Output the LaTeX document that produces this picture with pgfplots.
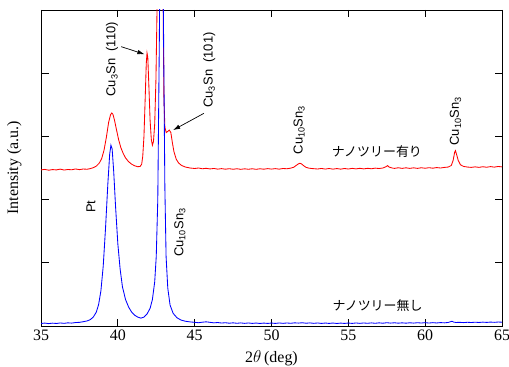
\documentclass[border=0pt]{standalone}
\usepackage{pgfplots}
\pgfplotsset{compat=1.18}
\usepackage{fontspec}
\setmainfont{Liberation Serif}
\newfontfamily\arial{Liberation Sans}
\newfontfamily\cjk{Noto Sans CJK JP}
\usetikzlibrary{arrows.meta}
\begin{document}
\begin{tikzpicture}
\useasboundingbox (-41bp,-41bp) rectangle (468bp,326bp);
\begin{axis}[
  at={(0,0)}, anchor=south west,
  scale only axis, width=461bp, height=316bp,
  xmin=35, xmax=65, ymin=0, ymax=5,
  xtick={35,40,...,65}, ytick={1,2,3,4}, yticklabels={},
  tick align=inside, major tick length=7.5bp,
  tick style={black, line width=0.8bp},
  axis line style={line width=0.9bp},
  /pgf/number format/assume math mode=true,
  ticklabel style={font=\fontsize{16}{16}\selectfont},
  xticklabel style={yshift=-0.5bp},
  xlabel={2$\theta$\,(deg)},
  ylabel={Intensity (a.u.)},
  label style={font=\fontsize{16}{16}\selectfont},
  xlabel style={at={(axis description cs:0.5,-0.101)}, anchor=center},
  ylabel style={at={(axis description cs:-0.058,0.5)}, anchor=center},
  every axis plot/.append style={line width=0.85bp},
]
% with nanotree (red)
\addplot[red, no marks] coordinates {
(35.00,2.470)(35.25,2.478)(35.50,2.465)(35.75,2.475)(36.00,2.470)(36.25,2.482)
(36.50,2.468)(36.75,2.476)(37.00,2.472)(37.25,2.485)(37.50,2.474)(37.75,2.484)
(38.00,2.480)(38.20,2.490)(38.40,2.505)(38.60,2.530)(38.80,2.580)(38.95,2.650)
(39.10,2.780)(39.25,2.980)(39.40,3.220)(39.52,3.340)(39.60,3.370)(39.68,3.350)
(39.78,3.260)(39.90,3.120)(40.05,2.950)(40.20,2.820)(40.35,2.730)(40.50,2.660)
(40.70,2.600)(40.90,2.560)(41.10,2.535)(41.30,2.520)(41.45,2.525)(41.55,2.560)
(41.62,2.680)(41.70,3.000)(41.78,3.600)(41.85,4.150)(41.90,4.320)(41.95,4.250)
(42.02,3.800)(42.10,3.250)(42.18,2.950)(42.25,2.860)(42.32,2.920)(42.40,3.200)
(42.48,3.900)(42.55,5.000)(42.65,7.000)(42.80,9.000)(42.90,7.000)(42.95,5.000)
(43.00,3.600)(43.06,3.150)(43.15,3.060)(43.25,3.080)(43.35,3.100)(43.45,3.060)
(43.55,2.900)(43.65,2.760)(43.80,2.640)(43.95,2.580)(44.15,2.540)(44.40,2.515)
(44.70,2.500)(45.00,2.492)(45.25,2.500)(45.50,2.488)(45.75,2.495)(46.00,2.485)
(46.25,2.493)(46.50,2.482)(46.75,2.490)(47.00,2.481)(47.25,2.489)(47.50,2.480)
(47.75,2.488)(48.00,2.479)(48.25,2.487)(48.50,2.480)(48.75,2.488)(49.00,2.479)
(49.25,2.488)(49.50,2.481)(49.75,2.490)(50.00,2.483)(50.25,2.490)(50.50,2.482)
(50.75,2.492)(51.00,2.488)(51.25,2.498)(51.45,2.512)(51.60,2.540)(51.75,2.565)
(51.85,2.575)(51.95,2.565)(52.10,2.535)(52.25,2.510)(52.45,2.497)(52.70,2.490)
(53.00,2.484)(53.25,2.493)(53.50,2.483)(53.75,2.492)(54.00,2.482)(54.25,2.491)
(54.50,2.482)(54.75,2.492)(55.00,2.484)(55.25,2.494)(55.50,2.486)(55.75,2.495)
(56.00,2.486)(56.25,2.495)(56.50,2.488)(56.75,2.498)(57.00,2.492)(57.25,2.500)
(57.45,2.520)(57.55,2.538)(57.65,2.515)(57.85,2.500)(58.00,2.494)(58.25,2.504)
(58.50,2.494)(58.75,2.503)(59.00,2.494)(59.25,2.503)(59.50,2.494)(59.75,2.504)
(60.00,2.496)(60.25,2.505)(60.50,2.497)(60.75,2.507)(61.00,2.500)(61.25,2.509)
(61.50,2.515)(61.70,2.540)(61.82,2.620)(61.92,2.750)(61.97,2.775)(62.05,2.710)
(62.15,2.620)(62.30,2.550)(62.50,2.525)(62.75,2.515)(63.00,2.510)(63.25,2.518)
(63.50,2.510)(63.75,2.520)(64.00,2.512)(64.25,2.522)(64.50,2.514)(64.75,2.524)
(65.00,2.518)
};
% without nanotree (blue)
\addplot[blue, no marks] coordinates {
(35.00,0.040)(35.25,0.046)(35.50,0.038)(35.75,0.045)(36.00,0.040)(36.25,0.048)
(36.50,0.042)(36.75,0.050)(37.00,0.046)(37.25,0.055)(37.50,0.058)(37.75,0.068)
(38.00,0.080)(38.20,0.100)(38.40,0.140)(38.60,0.220)(38.75,0.340)(38.90,0.560)
(39.05,0.950)(39.20,1.550)(39.35,2.250)(39.47,2.720)(39.55,2.860)(39.63,2.800)
(39.73,2.450)(39.85,1.900)(40.00,1.300)(40.15,0.900)(40.30,0.620)(40.50,0.420)
(40.70,0.300)(40.90,0.220)(41.10,0.170)(41.30,0.140)(41.50,0.125)(41.70,0.140)
(41.90,0.190)(42.10,0.280)(42.25,0.420)(42.40,0.700)(42.50,1.100)(42.60,2.000)
(42.70,4.500)(42.85,9.000)(42.98,4.500)(43.06,2.200)(43.14,1.100)(43.25,0.600)
(43.40,0.330)(43.60,0.200)(43.85,0.130)(44.10,0.095)(44.40,0.075)(44.70,0.065)
(45.00,0.058)(45.25,0.052)(45.50,0.060)(45.75,0.066)(46.00,0.058)(46.25,0.050)
(46.50,0.055)(46.75,0.047)(47.00,0.052)(47.25,0.044)(47.50,0.050)(47.75,0.043)
(48.00,0.049)(48.25,0.042)(48.50,0.048)(48.75,0.041)(49.00,0.047)(49.25,0.040)
(49.50,0.046)(49.75,0.041)(50.00,0.047)(50.25,0.041)(50.50,0.048)(50.75,0.042)
(51.00,0.048)(51.25,0.043)(51.50,0.050)(51.75,0.046)(52.00,0.051)(52.25,0.044)
(52.50,0.049)(52.75,0.042)(53.00,0.048)(53.25,0.041)(53.50,0.047)(53.75,0.041)
(54.00,0.047)(54.25,0.040)(54.50,0.046)(54.75,0.041)(55.00,0.047)(55.25,0.041)
(55.50,0.048)(55.75,0.042)(56.00,0.048)(56.25,0.043)(56.50,0.049)(56.75,0.043)
(57.00,0.050)(57.25,0.044)(57.50,0.052)(57.75,0.046)(58.00,0.051)(58.25,0.045)
(58.50,0.050)(58.75,0.045)(59.00,0.051)(59.25,0.046)(59.50,0.052)(59.75,0.047)
(60.00,0.053)(60.25,0.047)(60.50,0.053)(60.75,0.048)(61.00,0.054)(61.25,0.050)
(61.50,0.056)(61.65,0.068)(61.75,0.075)(61.85,0.062)(62.00,0.056)(62.25,0.058)
(62.50,0.054)(62.75,0.059)(63.00,0.055)(63.25,0.060)(63.50,0.056)(63.75,0.061)
(64.00,0.057)(64.25,0.062)(64.50,0.058)(64.75,0.063)(65.00,0.060)
};
% annotations
\begin{scope}[every node/.style={font=\arial\fontsize{13}{13}\selectfont, inner sep=0pt}]
\node[rotate=90] at (axis cs:39.62,4.22) {Cu\textsubscript{3}Sn\ \ (110)};
\node[rotate=90] at (axis cs:45.95,4.05) {Cu\textsubscript{3}Sn\ \ (101)};
\node[rotate=90] at (axis cs:51.80,3.10) {Cu\textsubscript{10}Sn\textsubscript{3}};
\node[rotate=90] at (axis cs:61.98,3.24) {Cu\textsubscript{10}Sn\textsubscript{3}};
\node[rotate=90] at (axis cs:38.25,1.89) {Pt};
\node[rotate=90] at (axis cs:44.04,1.48) {Cu\textsubscript{10}Sn\textsubscript{3}};
\end{scope}
\node[font=\cjk\fontsize{13}{13}\selectfont, inner sep=0pt] at (axis cs:56.86,2.76) {ナノツリー有り};
\node[font=\cjk\fontsize{13}{13}\selectfont, inner sep=0pt] at (axis cs:56.90,0.33) {ナノツリー無し};
\draw[black, line width=0.7bp, -{Latex[length=7bp,width=4.5bp]}] (axis cs:40.22,4.42) -- (axis cs:41.73,4.30);
\draw[black, line width=0.7bp, -{Latex[length=7bp,width=4.5bp]}] (axis cs:45.60,3.365) -- (axis cs:43.60,3.10);
\end{axis}
\end{tikzpicture}
\end{document}
